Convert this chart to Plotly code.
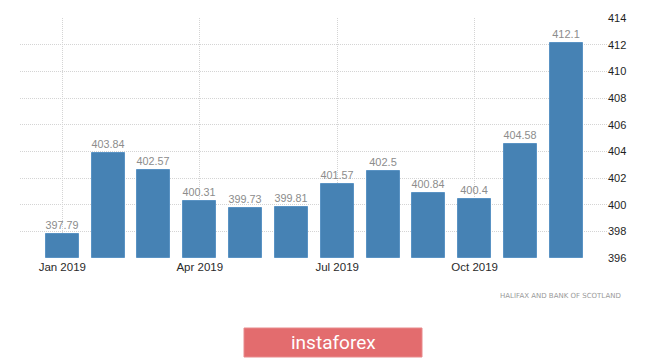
import plotly.graph_objects as go

months = ["Jan 2019", "Feb 2019", "Mar 2019", "Apr 2019", "May 2019", "Jun 2019",
          "Jul 2019", "Aug 2019", "Sep 2019", "Oct 2019", "Nov 2019", "Dec 2019"]
values = [397.79, 403.84, 402.57, 400.31, 399.73, 399.81,
          401.57, 402.5, 400.84, 400.4, 404.58, 412.1]
value_labels = ["397.79", "403.84", "402.57", "400.31", "399.73", "399.81",
                "401.57", "402.5", "400.84", "400.4", "404.58", "412.1"]
x_tick_pos = [0, 3, 6, 9]
x_tick_text = ["Jan 2019", "Apr 2019", "Jul 2019", "Oct 2019"]
y_ticks = [396, 398, 400, 402, 404, 406, 408, 410, 412, 414]
source_text = "HALIFAX AND BANK OF SCOTLAND"
badge_text = "instaforex"

# page body has an 8px margin; compensate so the picture matches
OFF = 8
W, H = 665 - 2 * OFF, 359 - OFF
L, R, T, B = 20 - OFF, 607 - OFF, 18 - OFF, 258 - OFF


def px(x):
    return (x - OFF - L) / (R - L)


def py(y):
    return (B - (y - OFF)) / (B - T)


fig = go.Figure()
fig.add_trace(go.Bar(
    x=list(range(len(months))),
    y=[v - 396 for v in values],
    base=396,
    width=0.72,
    marker=dict(color="#4682b4", line=dict(color="#5a93c4", width=1)),
    text=value_labels,
    textposition="outside",
    textfont=dict(family="Liberation Sans", size=11, color="#8c8c8c"),
    cliponaxis=False,
    hovertext=months,
))

fig.update_layout(
    width=W, height=H,
    margin=dict(l=L, r=W - R, t=T, b=H - B, autoexpand=False),
    paper_bgcolor="white",
    plot_bgcolor="white",
    showlegend=False,
    bargap=0,
    xaxis=dict(
        range=[-0.923, 11.888],
        tickmode="array", tickvals=x_tick_pos, ticktext=x_tick_text,
        showgrid=True, gridcolor="#d4d4d4", griddash="1px,1px", gridwidth=1,
        zeroline=False, showline=False, ticks="",
        tickfont=dict(family="Liberation Sans", size=11.5, color="#2a2a2a"),
        fixedrange=True,
    ),
    yaxis=dict(
        range=[396, 414], side="right",
        tickmode="array", tickvals=y_ticks,
        showgrid=True, gridcolor="#d4d4d4", griddash="1px,1px", gridwidth=1,
        zeroline=False, showline=False, ticks="",
        tickfont=dict(family="Liberation Sans", size=11, color="#1e1e1e"),
        fixedrange=True,
    ),
    shapes=[dict(
        type="rect", xref="paper", yref="paper",
        x0=px(244), x1=px(422), y0=py(357), y1=py(328),
        fillcolor="#e36c6e", line=dict(color="#e88a8c", width=1), layer="above",
    )],
    annotations=[
        dict(text=badge_text, xref="paper", yref="paper",
             x=px(333), y=py(342), xanchor="center", yanchor="middle",
             showarrow=False,
             font=dict(family="Roboto", size=19, color="white")),
        dict(text=source_text, xref="paper", yref="paper",
             x=px(623), y=py(296), xanchor="right", yanchor="middle",
             showarrow=False,
             font=dict(family="DejaVu Sans", size=7, color="#9a9a9a")),
    ],
)

fig.write_html("out.html")
